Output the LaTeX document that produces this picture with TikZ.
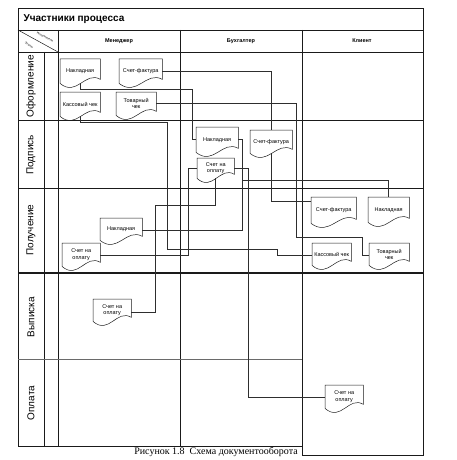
\documentclass[tikz,border=0pt]{standalone}
\usepackage{fontspec}
\setmainfont{Liberation Serif}
\setsansfont{Liberation Sans}
\usepackage{tikz}
\usetikzlibrary{calc}
\definecolor{ink}{HTML}{1A1A1A}
\definecolor{wire}{HTML}{2E2E2E}
\definecolor{rulegray}{HTML}{6A6A6A}
\newcommand{\docoutline}[1]{%
  \draw[docline] (#1.north west) -- (#1.south west)
    .. controls ($(#1.south west)!0.42!(#1.south east)+(0,14)$) and ($(#1.south west)!0.62!(#1.south east)+(0,-13)$) .. ($(#1.south east)+(0,-4)$)
    -- (#1.north east) -- cycle;}
\tikzset{
  grid/.style={draw=ink, line width=0.7pt},
  thickrule/.style={draw=ink, line width=1.4pt},
  softrule/.style={draw=rulegray, line width=0.6pt},
  docbox/.style={anchor=north west, inner sep=0pt, align=center, font=\fontsize{5.5}{6.2}\selectfont\sffamily},
  docline/.style={draw=ink, line width=0.5pt},
  flow/.style={draw=wire, line width=0.5pt},
  lane/.style={rotate=90, font=\fontsize{10}{12}\selectfont\sffamily},
  colhead/.style={font=\fontsize{5.5}{6}\selectfont\sffamily\bfseries},
  tinylbl/.style={rotate=-29, inner sep=0pt, font=\fontsize{3}{3.5}\selectfont\sffamily}
}
\begin{document}
\begin{tikzpicture}[x=1pt, y=-1pt]
 \useasboundingbox (0,0) rectangle (456,460);
 % table frame
 \draw[grid] (18,8) rectangle (423,30);
 \draw[grid] (18,30) -- (18,446) -- (302,446);
 \draw[grid] (302,30) -- (302,455) -- (423,455) -- (423,30);
 \draw[grid] (18,52) -- (423,52);
 \draw[grid] (58,30) -- (58,446);
 \draw[grid] (180,30) -- (180,446);
 \draw[grid] (44,52) -- (44,446);
 \draw[grid] (18,120) -- (423,120);
 \draw[grid] (18,188) -- (423,188);
 \draw[thickrule] (18,273) -- (423,273);
 \draw[softrule] (18,359) -- (302,359);
 \draw[grid, line width=0.5pt] (18,30) -- (58,52);
 % headers
 \node[anchor=west, font=\fontsize{10}{12}\selectfont\sffamily\bfseries] (title) at (20,19) {Участники процесса};
 \node[tinylbl] (hIsp) at (45,37) {Исполнители};
 \node[tinylbl] (hEtap) at (29,45) {Этапы};
 \node[colhead] (hMen) at (119,41) {Менеджер};
 \node[colhead] (hBuh) at (241,41) {Бухгалтер};
 \node[colhead] (hKli) at (362,41) {Клиент};
 \node[lane] (lOform) at (31,86) {Оформление};
 \node[lane] (lPodp) at (31,155) {Подпись};
 \node[lane] (lPoluch) at (31,230) {Получение};
 \node[lane] (lVyp) at (31,317) {Выписка};
 \node[lane] (lOpl) at (31,403) {Оплата};
 % documents
 \node[docbox, minimum width=40pt, minimum height=24pt] (mNakl) at (60,59) {Накладная};
 \node[docbox, minimum width=43pt, minimum height=24pt] (mFakt) at (119,59) {Счет-фактура};
 \node[docbox, minimum width=40pt, minimum height=24pt] (mKass) at (60,92) {Кассовый чек};
 \node[docbox, minimum width=40pt, minimum height=23pt] (mTov) at (116,92) {Товарный\\чек};
 \node[docbox, minimum width=42pt, minimum height=25pt] (bNakl) at (196,127) {Накладная};
 \node[docbox, minimum width=42pt, minimum height=23pt] (bFakt) at (250,130) {Счет-фактура};
 \node[docbox, minimum width=37pt, minimum height=20pt] (bSchet) at (197,158) {Счет на\\оплату};
 \node[docbox, minimum width=45pt, minimum height=26pt] (kFakt) at (311,197) {Счет-фактура};
 \node[docbox, minimum width=41pt, minimum height=25pt] (kNakl) at (368,197) {Накладная};
 \node[docbox, minimum width=39pt, minimum height=22pt] (kKass) at (312,243) {Кассовый чек};
 \node[docbox, minimum width=40pt, minimum height=22pt] (kTov) at (369,243) {Товарный\\чек};
 \node[docbox, minimum width=42pt, minimum height=22pt] (mNaklIn) at (100,218) {Накладная};
 \node[docbox, minimum width=38pt, minimum height=23pt] (mSchetIn) at (62,243) {Счет на\\оплату};
 \node[docbox, minimum width=38pt, minimum height=22pt] (mSchetV) at (93,299) {Счет на\\оплату};
 \node[docbox, minimum width=38pt, minimum height=23pt] (kSchet) at (325,385) {Счет на\\оплату};
 \foreach \d in {mNakl,mFakt,mKass,mTov,bNakl,bFakt,bSchet,kFakt,kNakl,kKass,kTov,mNaklIn,mSchetIn,mSchetV,kSchet}
   {\docoutline{\d}}
 % document flow
 \draw[flow] (mFakt.east) -| (bFakt.north);
 \draw[flow] (mNakl.south) -- ++(0,6) -| ($(bNakl.west)+(-4,0)$) -- (bNakl.west);
 \draw[flow] (mTov.east) -| ($(kTov.west)+(-73,-17)$) -| ($(kTov.west)+(-7,1)$) -- ($(kTov.west)+(0,1)$);
 \draw[flow] (mKass.south) -- ++(0,6) -| ($(kKass.west)+(-145,-5)$) -| ($(kKass.west)+(-35,1)$) -- ($(kKass.west)+(0,1)$);
 \draw[flow] (bNakl.east) -- ++(4,0) |- ($(mNaklIn.east)+(0,1)$);
 \draw[flow] ($(bNakl.east)+(4,41)$) -| (kNakl.north);
 \draw[flow] (bFakt.south) |- ($(kFakt.north west)+(0,4)$);
 \draw[flow] (bSchet.east) -- ++(14,0) |- ($(kSchet.west)+(0,1)$);
 \draw[flow] (bSchet.west) -- ++(-9,0) |- ($(mSchetIn.east)+(0,1)$);
 \draw[flow] (bSchet.south) -- ++(0,27) -| ($(mSchetV.east)+(24,2)$) -- ($(mSchetV.east)+(0,2)$);
 % caption
 \node[font=\fontsize{10}{12}\selectfont] (caption) at (216,452) {Рисунок 1.8\enspace Схема документооборота};
\end{tikzpicture}
\end{document}
